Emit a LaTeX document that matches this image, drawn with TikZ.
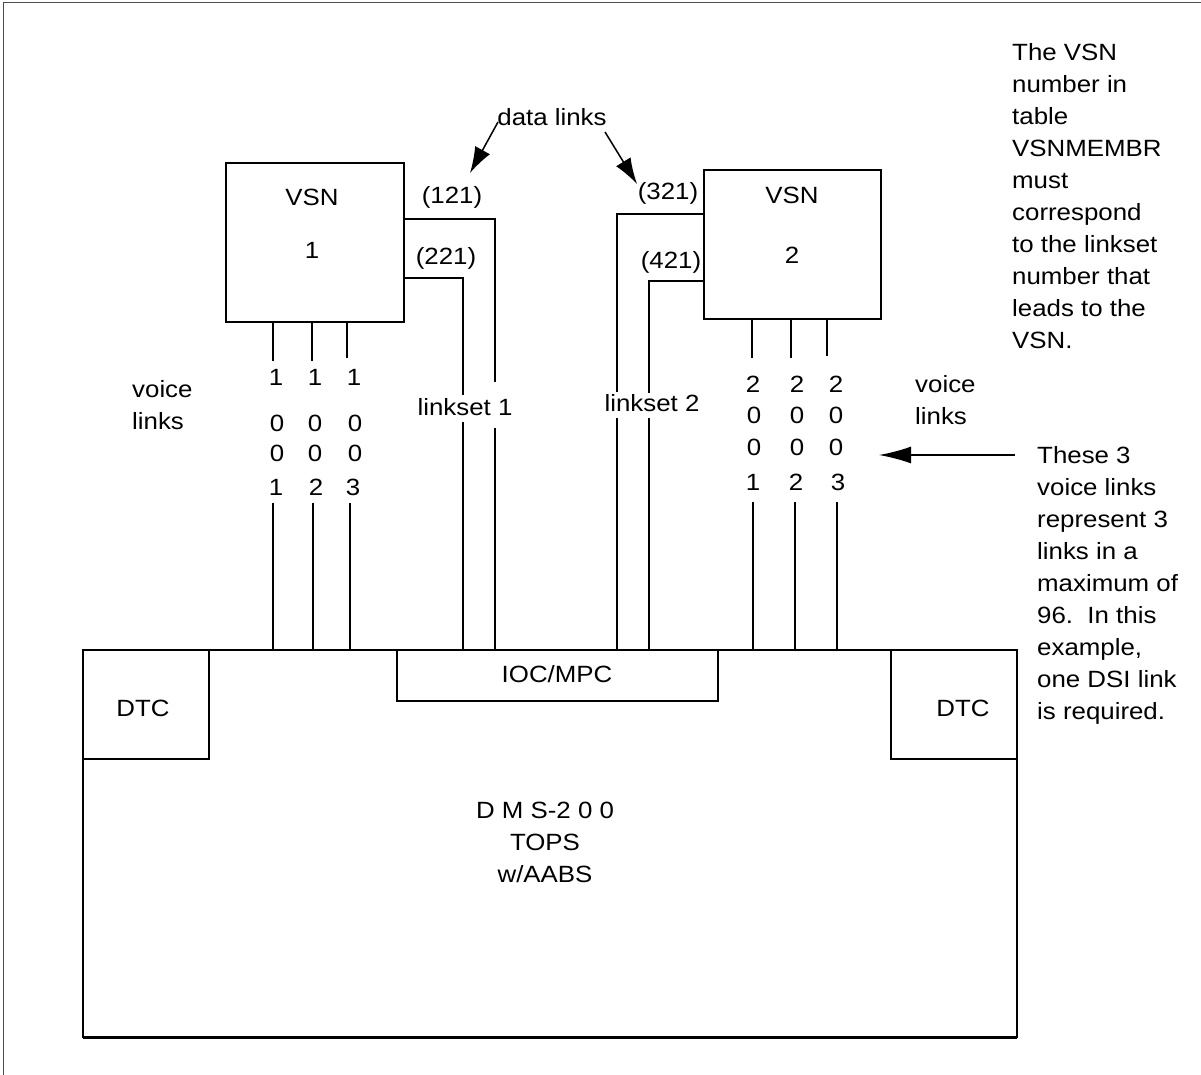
\documentclass[tikz,border=0pt]{standalone}
\usepackage{fontspec}
\setmainfont{Liberation Sans}[FakeStretch=1.1]
\usetikzlibrary{arrows.meta}
\begin{document}
\begin{tikzpicture}[x=1pt,y=-1pt,
  lbl/.style={inner sep=0pt,font=\fontsize{23.5}{32}\selectfont},
  note/.style={lbl,align=left,anchor=north west},
  boxline/.style={line width=1.8pt},
  link/.style={line width=1.5pt},
  bigarrow/.style={line width=1.5pt,-{Latex[length=28pt,width=17pt]}},
  framel/.style={line width=1pt,black!70}]
\useasboundingbox (0,0) rectangle (1201,1075);
% frame
\draw[framel] (1201,3) -- (3,3) -- (3,1075);

% DMS main box
\coordinate (dmsNW) at (83,650);
\coordinate (dmsSE) at (1017,1037);
\draw[boxline] (dmsNW) rectangle (dmsSE);
\draw[line width=3pt] (83,1037) -- (1017,1037);
\node[lbl,align=center] (dms) at (545,842) {D M S-2 0 0\\TOPS\\w/AABS};
% DTC boxes
\draw[boxline] (83,650) rectangle (209,759);
\node[lbl] (dtc1) at (143,708) {DTC};
\draw[boxline] (891,650) rectangle (1017,759);
\node[lbl] (dtc2) at (963,708) {DTC};
% IOC/MPC
\draw[boxline] (397,650) rectangle (718,701);
\node[lbl] (ioc) at (557,674) {IOC/MPC};

% VSN boxes
\draw[boxline] (226,163) rectangle (404,322);
\node[lbl] (vsn1a) at (312,197) {VSN};
\node[lbl] (vsn1b) at (312,250) {1};
\draw[boxline] (704,170) rectangle (881,319);
\node[lbl] (vsn2a) at (792,195) {VSN};
\node[lbl] (vsn2b) at (792,255) {2};

% data link labels
\node[lbl] (l121) at (452,197) {(121)};
\node[lbl] (l221) at (446,258) {(221)};
\node[lbl] (l321) at (668,193) {(321)};
\node[lbl] (l421) at (671,262) {(421)};

% data links
\draw[link] (404,219) -- (495,219) -- (495,382);
\draw[link] (495,428) -- (495,650);
\draw[link] (404,278) -- (463,278) -- (463,395);
\draw[link] (463,422) -- (463,650);
\draw[link] (704,214) -- (617,214) -- (617,392);
\draw[link] (617,418) -- (617,650);
\draw[link] (704,281) -- (649,281) -- (649,393);
\draw[link] (649,418) -- (649,650);
\node[lbl] (ls1) at (465,407) {linkset 1};
\node[lbl] (ls2) at (652,403) {linkset 2};

% data links annotation
\node[lbl] (dl) at (552,117) {data links};
\coordinate (dlA) at (498,122);
\coordinate (dlB) at (605,132);
\coordinate (tipA) at (470,173);
\coordinate (tipB) at (637,184);
\draw[bigarrow,-{Latex[length=26pt,width=17pt]}] (dlA) -- (tipA);
\draw[bigarrow,-{Latex[length=26pt,width=17pt]}] (dlB) -- (tipB);

% voice links left
\draw[link] (273,322) -- (273,361);
\draw[link] (312,322) -- (312,361);
\draw[link] (347,322) -- (347,358);
\node[lbl] at (276,377) {1};
\node[lbl] at (315,377) {1};
\node[lbl] at (354,377) {1};
\node[lbl] at (277,423) {0};
\node[lbl] at (315,423) {0};
\node[lbl] at (355,423) {0};
\node[lbl] at (277,453) {0};
\node[lbl] at (315,453) {0};
\node[lbl] at (355,453) {0};
\node[lbl] at (276,487) {1};
\node[lbl] at (316,487) {2};
\node[lbl] at (353,487) {3};
\draw[link] (273,503) -- (273,650);
\draw[link] (313,503) -- (313,650);
\draw[link] (350,503) -- (350,650);
\node[lbl,align=left,anchor=west] (vl1) at (132,405) {voice\\links};

% voice links right
\draw[link] (752,319) -- (752,358);
\draw[link] (791,319) -- (791,358);
\draw[link] (827,319) -- (827,356);
\node[lbl] at (753,384) {2};
\node[lbl] at (797,384) {2};
\node[lbl] at (836,384) {2};
\node[lbl] at (754,415) {0};
\node[lbl] at (797,415) {0};
\node[lbl] at (836,415) {0};
\node[lbl] at (754,447) {0};
\node[lbl] at (797,447) {0};
\node[lbl] at (836,447) {0};
\node[lbl] at (753,482) {1};
\node[lbl] at (796,482) {2};
\node[lbl] at (838,482) {3};
\draw[link] (753,502) -- (753,650);
\draw[link] (795,502) -- (795,650);
\draw[link] (837,502) -- (837,650);
\node[lbl,align=left,anchor=west] (vl2) at (915,400) {voice\\links};

% notes
\node[note] (note1) at (1012,43) {The VSN\\number in\\table\\VSNMEMBR\\must\\correspond\\to the linkset\\number that\\leads to the\\VSN.};
\node[note] (note2) at (1037,446) {These 3\\voice links\\represent 3\\links in a\\maximum of\\96.\ \ In this\\example,\\one DSI link\\is required.};
\coordinate (arrS) at (1015,455);
\coordinate (arrT) at (879,455);
\draw[bigarrow,-{Latex[length=32pt,width=17pt]}] (arrS) -- (arrT);
\end{tikzpicture}
\end{document}
